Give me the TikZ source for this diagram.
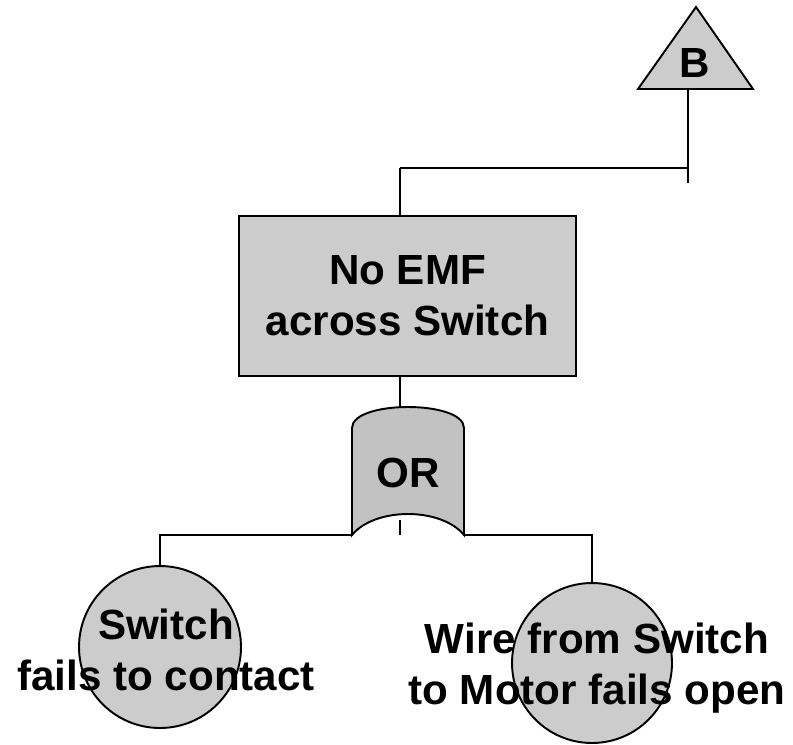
\documentclass[tikz,border=0pt]{standalone}
\usepackage{fontspec}
\setmainfont{Liberation Sans}
\usepackage{xcolor}
\definecolor{evtgray}{RGB}{204,204,204}
\definecolor{gategray}{RGB}{194,194,194}

\begin{document}
\begin{tikzpicture}[x=0.02cm,y=-0.02cm,line width=1.1pt,
  evt/.style={draw,fill=evtgray,line width=1.5pt,minimum width=6.74cm,minimum height=3.2cm},
  basic/.style={draw,circle,fill=evtgray,inner sep=0pt},
  lbl/.style={align=center,font=\fontsize{24}{29}\selectfont\bfseries}]
  \useasboundingbox (0,0) rectangle (793,744);
  % transfer triangle
  \draw[fill=evtgray] (696,7) -- (753,89) -- (638,89) -- cycle;
  \node[lbl] (btxt) at (695,63) {B};
  \coordinate (bfoot) at (688,89);
  \coordinate (bend) at (688,183);
  \coordinate (bjoin) at (400,168);
  % top event
  \node[evt,lbl] (noemf) at (407.5,296) {No EMF\\across Switch};
  % OR gate
  \coordinate (gtop) at (400,407);
  \coordinate (gbot) at (400,520);
  \coordinate (gleft) at (352,535);
  \coordinate (gright) at (464,535);
  \draw[fill=gategray] (gleft) -- (352,428) .. controls (352,400) and (464,400) .. (464,428)
    -- (gright) .. controls (441,507) and (375,507) .. cycle;
  \node[lbl] (orgate) at (408,473) {OR};
  % basic events
  \node[basic,minimum size=3.24cm] (sw) at (160,647) {};
  \node[basic,minimum size=3.2cm] (wire) at (592,663) {};
  \node[lbl] (swtxt) at (166,650) {Switch\\fails to contact};
  \node[lbl] (wiretxt) at (597,668) {Wire from Switch\\to Motor fails open};
  % connectors
  \draw (bfoot) -- (bend);
  \draw (bjoin) -- (bjoin -| bfoot);
  \draw (bjoin) -- (bjoin |- noemf.north);
  \draw (bjoin |- noemf.south) -- (gtop);
  \draw (gbot) -- (gbot |- gleft);
  \draw (sw.north) |- (gleft);
  \draw (gright) -| (wire.north);
\end{tikzpicture}
\end{document}
